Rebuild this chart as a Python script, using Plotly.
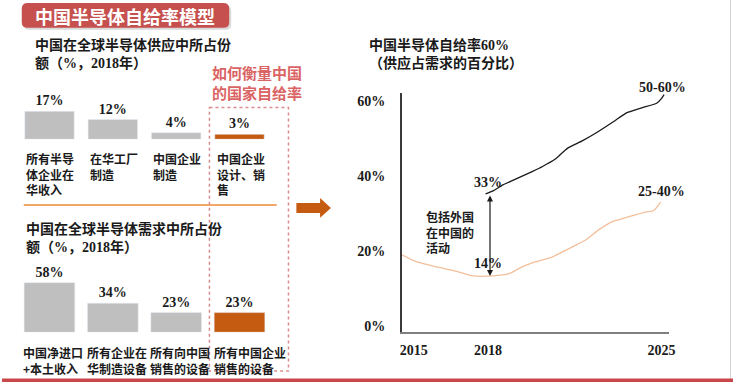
import plotly.graph_objects as go

# ---------------- data ----------------
supply_cats = ["所有半导体企业在华收入", "在华工厂制造", "中国企业制造", "中国企业设计、销售"]
supply_labels = ["所有半导<br>体企业在<br>华收入", "在华工厂<br>制造", "中国企业<br>制造", "中国企业<br>设计、销<br>售"]
supply_vals = [17, 12, 4, 3]

demand_cats = ["中国净进口+本土收入", "所有企业在华制造设备", "所有向中国销售的设备", "所有中国企业销售的设备"]
demand_labels = ["中国净进口<br>+本土收入", "所有企业在<br>华制造设备", "所有向中国<br>销售的设备", "所有中国企业<br>销售的设备"]
demand_vals = [58, 34, 23, 23]

bar_colors = ["#BFBFBF", "#BFBFBF", "#BFBFBF", "#C55A11"]

# self-sufficiency incl. foreign activity in China (black)
incl_years = [2017.9, 2018.2, 2018.6, 2019.0, 2019.4, 2019.8, 2020.2, 2020.7, 2021.2,
              2021.8, 2022.4, 2023.1, 2023.6, 2024.2, 2024.8, 2025.0, 2025.1]
incl_vals = [35.2, 36.0, 37.6, 38.8, 40.0, 41.2, 42.5, 44.4, 47.3,
             49.3, 51.6, 54.6, 56.8, 58.1, 59.3, 60.6, 61.6]

# domestic companies only (orange)
dom_years = [2014.53, 2015.13, 2015.93, 2016.73, 2017.39, 2018.19, 2018.85, 2019.38, 2019.91,
             2020.58, 2021.24, 2021.90, 2022.43, 2022.97, 2023.63, 2024.29, 2024.69, 2024.96]
dom_vals = [19.0, 17.1, 15.8, 14.6, 13.4, 13.4, 14.0, 15.8, 17.1,
            18.4, 20.6, 22.8, 25.5, 27.7, 29.0, 30.3, 30.8, 33.0]

y_ticks = [0, 20, 40, 60]
y_ticktext = ["0%", "20%", "40%", "60%"]
x_ticks = [2015, 2018, 2025]
x_ticktext = ["2015", "2018", "2025"]

# ---------------- helpers ----------------
W, H = 740, 384
def px(x):
    return x / W
def py(y):
    return 1 - y / H

SERIF_CJK = "Liberation Serif, Noto Sans CJK SC, serif"
CJK = "Noto Sans CJK SC, sans-serif"
TXT = "#1a1a1a"

fig = go.Figure()

fig.add_trace(go.Bar(
    x=supply_cats, y=supply_vals, marker_color=bar_colors, width=0.78,
    text=[f"<b>{v}%</b>" for v in supply_vals], textposition="outside",
    textfont=dict(family=SERIF_CJK, size=14, color=TXT), cliponaxis=False,
    constraintext="none", xaxis="x", yaxis="y", showlegend=False))

fig.add_trace(go.Bar(
    x=demand_cats, y=demand_vals, marker_color=bar_colors, width=0.8,
    text=[f"<b>{v}%</b>" for v in demand_vals], textposition="outside",
    textfont=dict(family=SERIF_CJK, size=14, color=TXT), cliponaxis=False,
    constraintext="none", xaxis="x2", yaxis="y2", showlegend=False))

fig.add_trace(go.Scatter(
    x=dom_years, y=dom_vals, mode="lines", line=dict(color="#F3BF9B", width=1.3, shape="spline", smoothing=0.5),
    xaxis="x3", yaxis="y3", showlegend=False))
fig.add_trace(go.Scatter(
    x=incl_years, y=incl_vals, mode="lines", line=dict(color="#1a1a1a", width=1.3, shape="spline", smoothing=0.5),
    xaxis="x3", yaxis="y3", showlegend=False))

bar_xdom = [px(16), px(272.5)]
fig.update_layout(
    width=W, height=H, margin=dict(l=0, r=0, t=0, b=0),
    paper_bgcolor="white", plot_bgcolor="rgba(0,0,0,0)",
    xaxis=dict(domain=bar_xdom, range=[-0.5, 3.5], visible=False, anchor="y"),
    yaxis=dict(domain=[py(140), py(85)], range=[0, 55 / 1.65], visible=False, anchor="x"),
    xaxis2=dict(domain=bar_xdom, range=[-0.5, 3.5], visible=False, anchor="y2"),
    yaxis2=dict(domain=[py(334), py(264)], range=[0, 70 / 0.86], visible=False, anchor="x2"),
    xaxis3=dict(domain=[px(405), px(675)], range=[2014.534, 2025.29], anchor="y3",
                showline=True, linecolor="#7F7F7F", linewidth=2, showgrid=False, zeroline=False,
                tickvals=x_ticks, ticktext=[f"<b>{t}</b>" for t in x_ticktext],
                ticks="outside", ticklen=4, tickcolor="rgba(0,0,0,0)",
                tickfont=dict(family=SERIF_CJK, size=14, color=TXT)),
    yaxis3=dict(domain=[py(334), py(93.6)], range=[-1.59, 62.0], anchor="x3",
                showline=True, linecolor="#3a3a3a", linewidth=2, showgrid=False, zeroline=False,
                tickvals=y_ticks, ticktext=[f"<b>{t}</b>" for t in y_ticktext],
                ticks="outside", ticklen=12, tickcolor="rgba(0,0,0,0)",
                tickfont=dict(family=SERIF_CJK, size=14, color=TXT)),
)

shapes = []
def rrect(x0, y0, x1, y1, r):
    return (f"M {px(x0 + r)} {py(y0)} L {px(x1 - r)} {py(y0)} Q {px(x1)} {py(y0)} {px(x1)} {py(y0 + r)} "
            f"L {px(x1)} {py(y1 - r)} Q {px(x1)} {py(y1)} {px(x1 - r)} {py(y1)} "
            f"L {px(x0 + r)} {py(y1)} Q {px(x0)} {py(y1)} {px(x0)} {py(y1 - r)} "
            f"L {px(x0)} {py(y0 + r)} Q {px(x0)} {py(y0)} {px(x0 + r)} {py(y0)} Z")
shapes.append(dict(type="path", xref="paper", yref="paper", path=rrect(22, 5, 232, 30, 6),
                   fillcolor="#D9D9D9", line=dict(width=0), layer="below"))
shapes.append(dict(type="path", xref="paper", yref="paper", path=rrect(20, 3, 230, 28, 6),
                   fillcolor="#C5504E", line=dict(width=0), layer="below"))
shapes.append(dict(type="line", xref="paper", yref="paper", x0=px(22), x1=px(278), y0=py(206), y1=py(206),
                   line=dict(color="#F2A766", width=2)))
shapes.append(dict(type="rect", xref="paper", yref="paper", x0=px(210), x1=px(290), y0=py(108), y1=py(373),
                   line=dict(color="#D98A8B", width=1.5, dash="3px,3px"), fillcolor="rgba(0,0,0,0)"))
arrow = (f"M {px(298)} {py(204)} L {px(322)} {py(204)} L {px(322)} {py(199)} L {px(333)} {py(209)} "
         f"L {px(322)} {py(219)} L {px(322)} {py(214)} L {px(298)} {py(214)} Z")
shapes.append(dict(type="path", xref="paper", yref="paper", path=arrow, fillcolor="#C55A11", line=dict(width=0)))
shapes.append(dict(type="line", xref="paper", yref="paper", x0=px(737.5), x1=px(737.5), y0=0, y1=1,
                   line=dict(color="#D4D4D4", width=1)))
shapes.append(dict(type="rect", xref="paper", yref="paper", x0=0, x1=1, y0=py(384), y1=py(380.5),
                   fillcolor="#C9474A", line=dict(width=0)))
fig.update_layout(shapes=shapes)

ann = []
def t(x, y, text, size=14, color=TXT, family=CJK, xanchor="left", yanchor="middle", align="left", **kw):
    ann.append(dict(xref="paper", yref="paper", x=px(x), y=py(y), text=text, showarrow=False,
                    font=dict(family=family, size=size, color=color), xanchor=xanchor, yanchor=yanchor,
                    align=align, **kw))

t(125, 16, "<b>中国半导体自给率模型</b>", size=18, color="white", xanchor="center")
t(31, 54, "<b>中国在全球半导体供应中所占份<br>额（%，2018年）</b>", size=14, family=SERIF_CJK)
t(22, 239, "<b>中国在全球半导体需求中所占份<br>额（%，2018年）</b>", size=14, family=SERIF_CJK)
t(211, 83, "<b>如何衡量中国<br>的国家自给率</b>", size=15, color="#DA6464")
t(369, 54, "<b>中国半导体自给率60%<br>（供应占需求的百分比）</b>", size=14, family=SERIF_CJK)
t(427, 233, "<b>包括外国<br>在中国的<br>活动</b>", size=12)
t(492, 183, "<b>33%</b>", family=SERIF_CJK, xanchor="center")
t(492, 265, "<b>14%</b>", family=SERIF_CJK, xanchor="center")
t(669, 88, "<b>50-60%</b>", family=SERIF_CJK, xanchor="center")
t(668, 192, "<b>25-40%</b>", family=SERIF_CJK, xanchor="center")

for cat, lab in zip(supply_cats, supply_labels):
    ann.append(dict(xref="x", yref="paper", x=cat, y=py(149), text=f"<b>{lab}</b>", showarrow=False,
                    xanchor="left", yanchor="top", align="left", xshift=-25,
                    font=dict(family=CJK, size=12, color=TXT)))
for cat, lab in zip(demand_cats, demand_labels):
    ann.append(dict(xref="x2", yref="paper", x=cat, y=py(344), text=f"<b>{lab}</b>", showarrow=False,
                    xanchor="left", yanchor="top", align="left", xshift=-28,
                    font=dict(family=CJK, size=12, color=TXT)))

ann.append(dict(xref="x3", yref="y3", axref="x3", ayref="y3", x=2018.08, y=13.4, ax=2018.08, ay=35.2,
                text="", showarrow=True, arrowhead=2, startarrowhead=2, arrowside="end+start",
                arrowsize=1, arrowwidth=1.2, arrowcolor="#1a1a1a", standoff=0, startstandoff=0))

fig.update_layout(annotations=ann)
fig.write_html("out.html", config={"displayModeBar": False},
               post_script="document.body.style.margin='0';document.body.style.overflow='hidden';")
